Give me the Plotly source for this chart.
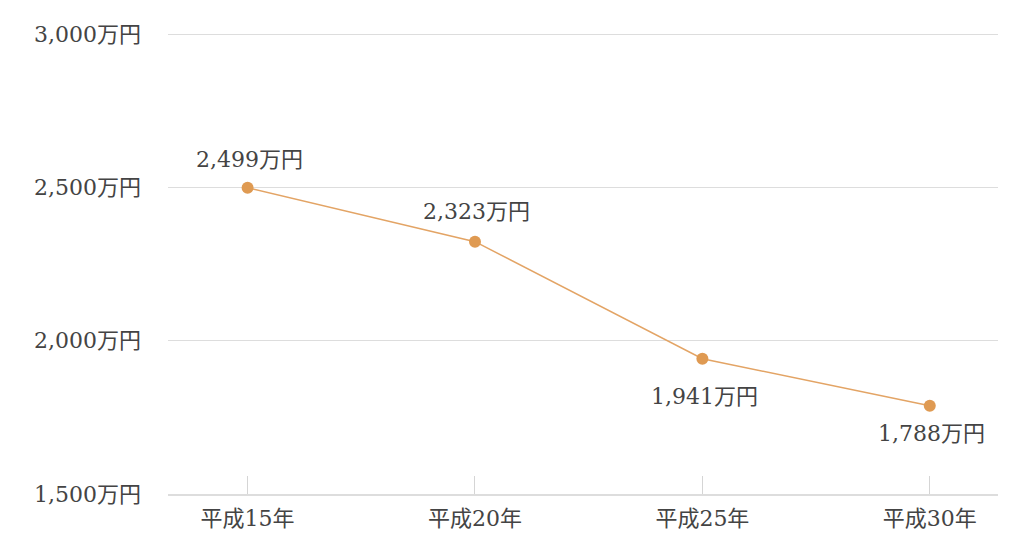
import plotly.graph_objects as go

categories = ["平成15年", "平成20年", "平成25年", "平成30年"]
values = [2499, 2323, 1941, 1788]
value_labels = ["2,499万円", "2,323万円", "1,941万円", "1,788万円"]
y_tickvals = [1500, 2000, 2500, 3000]
y_ticktext = ["1,500万円", "2,000万円", "2,500万円", "3,000万円"]

FONT = "'DejaVu Serif', 'Noto Sans CJK JP', serif"
TEXT_COLOR = "#444444"
LINE_COLOR = "#E3A465"
MARKER_COLOR = "#DF9A52"
FS = 22
LABEL_SHIFTS = [28, 30, -38, -28]

fig = go.Figure()
fig.add_trace(go.Scatter(
    x=categories, y=values, mode="lines+markers",
    line=dict(color=LINE_COLOR, width=1.5),
    marker=dict(color=MARKER_COLOR, size=12),
    hoverinfo="skip", showlegend=False,
))

for c, v, t, s in zip(categories, values, value_labels, LABEL_SHIFTS):
    fig.add_annotation(
        x=c, y=v, text=t, showarrow=False,
        yshift=s, xshift=2,
        font=dict(family=FONT, size=FS, color=TEXT_COLOR),
    )

fig.update_layout(
    width=1008, height=544,
    margin=dict(l=160, r=18, t=23, b=58),
    paper_bgcolor="white", plot_bgcolor="white",
    font=dict(family=FONT, size=FS, color=TEXT_COLOR),
)
fig.update_xaxes(
    type="category", range=[-0.35, 3.3], automargin=False,
    showgrid=False, showline=True, linecolor="#dddddd", linewidth=1.5,
    ticks="inside", ticklen=18, tickcolor="#d5d5d5", tickwidth=1,
    ticklabelstandoff=4,
    tickfont=dict(family=FONT, size=FS, color=TEXT_COLOR),
    zeroline=False,
)
fig.update_yaxes(
    range=[1500, 3010], tickvals=y_tickvals, ticktext=y_ticktext,
    automargin=False,
    showgrid=True, gridcolor="#dddddd", gridwidth=1,
    zeroline=False, showline=False, ticks="", ticklabelstandoff=26,
    tickfont=dict(family=FONT, size=FS, color=TEXT_COLOR),
)

fig.write_html("out.html")
